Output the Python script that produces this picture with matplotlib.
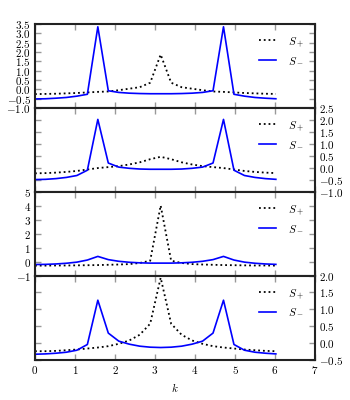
import numpy as np
import matplotlib
matplotlib.use('Agg')
import matplotlib.pyplot as plt
from matplotlib.ticker import FuncFormatter, MultipleLocator

plt.rcParams['mathtext.fontset'] = 'cm'
plt.rcParams['font.family'] = 'serif'
plt.rcParams['font.size'] = 8

# ── Data: k = 2*pi*n/24, n = 0..23 ───────────────────────────────────────────
k = np.arange(24) * 2 * np.pi / 24

s_plus_1 = [-0.26, -0.25, -0.24, -0.22, -0.20, -0.17, -0.14, -0.12, -0.05, 0.03, 0.11, 0.35,
            1.86, 0.35, 0.11, 0.03, -0.05, -0.12, -0.14, -0.17, -0.20, -0.22, -0.24, -0.25]
s_minus_1 = [-0.52, -0.51, -0.48, -0.44, -0.37, -0.27, 3.35, -0.08, -0.17, -0.21, -0.23, -0.24,
             -0.24, -0.24, -0.23, -0.21, -0.17, -0.08, 3.35, -0.27, -0.37, -0.44, -0.48, -0.51]

s_plus_2 = [-0.23, -0.22, -0.20, -0.17, -0.13, -0.07, -0.01, 0.03, 0.07, 0.14, 0.23, 0.36,
            0.46, 0.36, 0.23, 0.14, 0.07, 0.03, -0.01, -0.07, -0.13, -0.17, -0.20, -0.22]
s_minus_2 = [-0.49, -0.48, -0.45, -0.40, -0.32, -0.10, 2.02, 0.20, 0.03, -0.02, -0.05, -0.06,
             -0.06, -0.06, -0.05, -0.02, 0.03, 0.20, 2.02, -0.10, -0.32, -0.40, -0.45, -0.48]

s_plus_3 = [-0.28, -0.28, -0.27, -0.27, -0.26, -0.25, -0.24, -0.22, -0.20, -0.17, -0.09, 0.07,
            4.02, 0.07, -0.09, -0.17, -0.20, -0.22, -0.24, -0.25, -0.26, -0.27, -0.27, -0.28]
s_minus_3 = [-0.20, -0.19, -0.16, -0.11, -0.03, 0.12, 0.38, 0.15, 0.03, -0.04, -0.08, -0.10,
             -0.10, -0.10, -0.08, -0.04, 0.03, 0.15, 0.38, 0.12, -0.03, -0.11, -0.16, -0.19]

s_plus_4 = [-0.25, -0.25, -0.24, -0.22, -0.20, -0.17, -0.14, -0.10, -0.03, 0.07, 0.24, 0.57,
            1.94, 0.57, 0.24, 0.07, -0.03, -0.10, -0.14, -0.17, -0.20, -0.22, -0.24, -0.25]
s_minus_4 = [-0.34, -0.33, -0.31, -0.28, -0.22, -0.05, 1.27, 0.29, 0.05, -0.04, -0.10, -0.13,
             -0.14, -0.13, -0.10, -0.04, 0.05, 0.29, 1.27, -0.05, -0.22, -0.28, -0.31, -0.33]

panels = [
    (s_plus_1, s_minus_1, (-1.0, 3.5), 0.5, 'left'),
    (s_plus_2, s_minus_2, (-1.0, 2.5), 0.5, 'right'),
    (s_plus_3, s_minus_3, (-1.0, 5.0), 1.0, 'left'),
    (s_plus_4, s_minus_4, (-0.5, 2.0), 0.5, 'right'),
]

fig, axes = plt.subplots(4, 1, figsize=(3.5, 4.0), dpi=100, sharex=True)
fig.subplots_adjust(left=0.1, right=0.9, top=0.94, bottom=0.101, hspace=0)


def fmt_half(v, pos):
    return f'${v:.1f}$'


def fmt_int(v, pos):
    return f'${v:.0f}$'


for i, (ax, (sp, sm, ylim, step, side)) in enumerate(zip(axes, panels)):
    ax.plot(k, sp, color='black', linestyle=':', lw=1.3, label='$S_+$')
    ax.plot(k, sm, color='#0000ff', linestyle='-', lw=1.2, label='$S_-$')
    ax.set_xlim(0, 7)
    ax.set_ylim(*ylim)
    ax.yaxis.set_major_locator(MultipleLocator(step))
    ax.yaxis.set_major_formatter(FuncFormatter(fmt_int if step == 1.0 else fmt_half))
    ax.xaxis.set_major_locator(MultipleLocator(1))
    ax.xaxis.set_major_formatter(FuncFormatter(fmt_int))
    ax.tick_params(direction='in', length=4, width=1, color='#999999',
                   top=True, bottom=True, left=True, right=True,
                   labelleft=(side == 'left'), labelright=(side == 'right'),
                   labelbottom=(i == 3), labelsize=8, pad=3)
    for sp_ in ax.spines.values():
        sp_.set_linewidth(1.5)
        sp_.set_color('#222222')
    ax.legend(loc='upper right', frameon=False, fontsize=8,
              handlelength=1.5, handletextpad=1.1, labelspacing=0.6,
              borderaxespad=0.6)

axes[-1].set_xlabel('$k$', fontsize=8)

plt.savefig('out.png')
plt.close()
